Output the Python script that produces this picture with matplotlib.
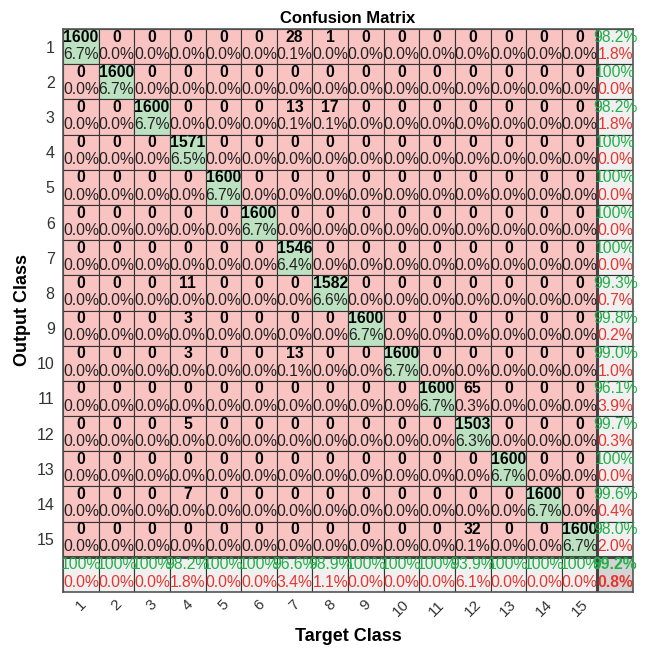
import numpy as np
import matplotlib.pyplot as plt
from matplotlib.patches import Rectangle

plt.rcParams['font.family'] = ['Liberation Sans', 'DejaVu Sans']

# class labels (target = columns, output = rows)
classes = [str(i) for i in range(1, 16)]

# diagonal counts (correct predictions per class)
diag_counts = [1600, 1600, 1600, 1571, 1600, 1600, 1546, 1582,
               1600, 1600, 1600, 1503, 1600, 1600, 1600]

# off-diagonal counts: (output row, target col, count), 1-based
off_diag = [(1, 7, 28), (1, 8, 1),
            (3, 7, 13), (3, 8, 17),
            (8, 4, 11),
            (9, 4, 3),
            (10, 4, 3), (10, 7, 13),
            (11, 12, 65),
            (12, 4, 5),
            (14, 4, 7),
            (15, 12, 32)]

n = len(classes)
cm = np.diag(diag_counts).astype(float)
for r, c, v in off_diag:
    cm[r - 1, c - 1] = v
total = cm.sum()

PINK = '#f9c3c2'
GREEN = '#bde2c1'
GREY = '#f0f0f0'
DGREY = '#d4d4d4'
TGREEN = '#22b04a'
TRED = '#e8352e'


def pct(v):
    if round(v * 100, 1) == 100:
        return '100%'
    return f'{v * 100:.1f}%'


fig = plt.figure(figsize=(6.46, 6.54), dpi=100)
W, H = 646, 654
ax = fig.add_axes([63 / W, (H - 592) / H, 570 / W, 563 / H])
ax.set_xlim(-0.5, n + 0.5)
ax.set_ylim(n + 0.5, -0.5)

fs = 11.3
for i in range(n + 1):
    for j in range(n + 1):
        if i < n and j < n:
            fc = GREEN if i == j else PINK
        elif i == n and j == n:
            fc = DGREY
        else:
            fc = GREY
        ax.add_patch(Rectangle((j - 0.5, i - 0.5), 1, 1, facecolor=fc,
                               edgecolor='#333333', lw=0.8))

        if i < n and j < n:
            v = cm[i, j]
            ax.text(j, i - 0.27, f'{int(v)}', ha='center', va='center',
                    fontsize=fs, fontweight='bold', color='black')
            ax.text(j, i + 0.22, f'{v / total * 100:.1f}%', ha='center',
                    va='center', fontsize=fs, color='#222222')
        else:
            if i < n:
                acc = cm[i, i] / cm[i, :].sum()
            elif j < n:
                acc = cm[j, j] / cm[:, j].sum()
            else:
                acc = np.trace(cm) / total
            fw = 'bold' if (i == n and j == n) else 'normal'
            ax.text(j, i - 0.27, pct(acc), ha='center', va='center',
                    fontsize=fs, color=TGREEN, fontweight=fw)
            ax.text(j, i + 0.22, pct(1 - acc), ha='center', va='center',
                    fontsize=fs, color=TRED, fontweight=fw)

# thicker separators for summary row / column
ax.plot([n - 0.5, n - 0.5], [-0.5, n + 0.5], color='#444444', lw=2.2)
ax.plot([-0.5, n + 0.5], [n - 0.5, n - 0.5], color='#444444', lw=2.2)
for s in ax.spines.values():
    s.set_color('#555555')
    s.set_linewidth(1.2)

ax.set_xticks(range(n))
ax.set_xticklabels(classes, rotation=45, fontsize=11, color='#333333')
ax.set_yticks(range(n))
ax.set_yticklabels(classes, fontsize=11.5, color='#333333')
ax.tick_params(length=0, pad=6)
ax.tick_params(axis='x', pad=4)

ax.set_title('Confusion Matrix', fontsize=12, fontweight='bold', pad=4)
ax.set_xlabel('Target Class', fontsize=13, fontweight='bold', labelpad=6)
ax.set_ylabel('Output Class', fontsize=13, fontweight='bold', labelpad=4)

fig.savefig('out.png', dpi=100)
